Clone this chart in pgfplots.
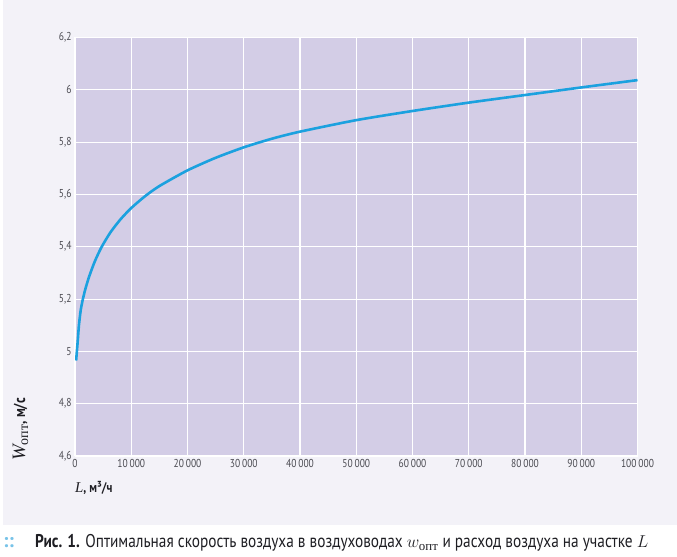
\documentclass[border=0pt]{standalone}
\usepackage{fontspec}
\usepackage{amsmath}
\usepackage{pgfplots}
\pgfplotsset{compat=1.18}
\setmainfont{PT Sans}
\newfontfamily\cond[FakeStretch=0.83]{PT Sans}
\newfontfamily\cyrserif{Liberation Serif}

\definecolor{pagebg}{RGB}{243,242,248}
\definecolor{plotbg}{RGB}{211,205,230}
\definecolor{curve}{RGB}{27,161,223}
\definecolor{ticktext}{RGB}{75,75,82}
\definecolor{dotblue}{RGB}{120,195,232}
\definecolor{captext}{RGB}{30,30,35}

\begin{document}
\begin{tikzpicture}[x=1bp,y=1bp]
  \useasboundingbox (0,0) rectangle (677,557);
  \fill[pagebg] (3,32) rectangle (677,557);

  \begin{axis}[
      at={(75bp,101bp)}, anchor=south west,
      scale only axis, width=562.5bp, height=418.5bp,
      xmin=0, xmax=100000, ymin=4.6, ymax=6.2,
      axis background/.style={fill=plotbg},
      axis line style={draw=none},
      major tick length=0pt,
      grid=major,
      major grid style={white, line width=1.1bp},
      xtick={0,10000,20000,30000,40000,50000,60000,70000,80000,90000,100000},
      xticklabels={0,10\,000,20\,000,30\,000,40\,000,50\,000,60\,000,70\,000,80\,000,90\,000,100\,000},
      ytick={4.6,4.8,5,5.2,5.4,5.6,5.8,6,6.2},
      yticklabels={{4,6},{4,8},5,{5,2},{5,4},{5,6},{5,8},6,{6,2}},
      tick label style={font=\cond\fontsize{11.5}{11.5}\selectfont, text=ticktext},
      scaled x ticks=false,
      xlabel={{\cyrserif\itshape\fontsize{15}{15}\selectfont L}{\cond\bfseries\fontsize{14}{14}\selectfont, м³/ч}},
      xlabel style={at={(axis description cs:-0.006,-0.077)}, anchor=west, text=captext},
      ylabel={{\cyrserif\itshape\fontsize{19}{19}\selectfont W}{\cyrserif\fontsize{14}{14}\selectfont\raisebox{-3bp}{опт}}{\cond\bfseries\fontsize{16}{16}\selectfont, м/с}},
      ylabel style={at={(axis description cs:-0.097,-0.02)}, anchor=west, text=captext},
    ]
    \addplot[curve, line width=2.6bp, smooth, tension=0.4] coordinates {
      (200,4.965) (450,5.030) (700,5.100) (1000,5.155) (1300,5.190)
      (1800,5.235) (2500,5.285) (3500,5.343) (4700,5.398) (6300,5.455)
      (8100,5.505) (10000,5.548) (12500,5.594) (15000,5.632) (20000,5.692)
      (25000,5.740) (30000,5.780) (35000,5.813) (40000,5.840) (50000,5.884)
      (60000,5.919) (70000,5.951) (80000,5.980) (90000,6.009) (100000,6.037)
    };
  \end{axis}

  \node[anchor=base west, inner sep=0pt, text=dotblue] at (3,9)
    {\fontsize{20}{20}\selectfont\bfseries ::};
  \node[anchor=base west, inner sep=0pt, text=captext] at (35,9)
    {\cond\fontsize{18.5}{18.5}\selectfont\textbf{Рис. 1.} Оптимальная скорость воздуха в воздуховодах
     $w_{\text{\cyrserif опт}}$ и расход воздуха на участке $L$};
\end{tikzpicture}
\end{document}
